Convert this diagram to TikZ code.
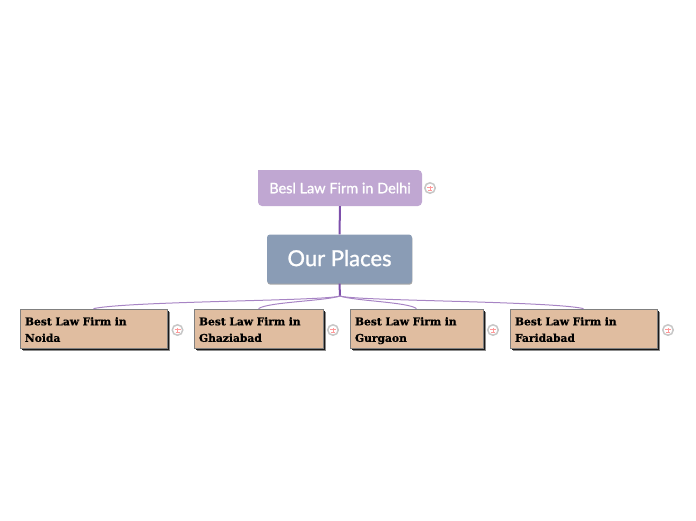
\documentclass[tikz,border=0pt]{standalone}
\usepackage{fontspec}
\setmainfont{Lato}[FakeBold=1.1]
\newfontfamily\slabfont{DejaVu Serif Bold}[FakeBold=0.7]
\usetikzlibrary{shadows}

\begin{document}
\begin{tikzpicture}[x=1pt, y=-1pt,
  root/.style = {rectangle, rounded corners=3pt, fill=rootblue, text=white, minimum width=145pt, minimum height=49pt, inner sep=0pt, text depth=2pt, font=\fontsize{22}{26}\selectfont, general shadow={shadow xshift=0.4pt, shadow yshift=-1.2pt, fill=black!35}},
  upper/.style = {rectangle, rounded corners=4pt, fill=upperpurple, text=white, minimum width=164pt, minimum height=36pt, inner sep=0pt, font=\fontsize{14.5}{18}\selectfont},
  place/.style = {rectangle, draw=black!50, fill=placetan, text=black, line width=0.8pt, minimum height=39pt, inner sep=0pt, text depth=14.5pt, font=\slabfont\fontsize{10.7}{16.5}\selectfont, align=left, general shadow={shadow xshift=3pt, shadow yshift=-3pt, fill=black!45}, general shadow={shadow xshift=1.5pt, shadow yshift=-1.5pt, fill=black!90}},
  icon/.style = {circle, draw=black!22, line width=1.5pt, fill=white, minimum size=10.5pt, inner sep=0pt, path picture={
      \draw[red!40, line width=0.7pt] ([xshift=-3pt,yshift=1pt]path picture bounding box.center) -- ([xshift=3pt,yshift=1pt]path picture bounding box.center);
      \draw[red!40, line width=0.6pt] ([yshift=2pt]path picture bounding box.center) -- ([yshift=-2.5pt]path picture bounding box.center);
      \draw[red!40, line width=0.8pt] ([xshift=-2pt,yshift=-2.5pt]path picture bounding box.center) -- ([xshift=2pt,yshift=-2.5pt]path picture bounding box.center);
    }},
  stem/.style = {draw=linepurple, line width=2pt},
  branch/.style = {draw=branchpurple, line width=1pt},
  ]
  \definecolor{rootblue}{HTML}{8A9CB5}
  \definecolor{upperpurple}{HTML}{C0A7D2}
  \definecolor{placetan}{HTML}{E0BDA0}
  \definecolor{linepurple}{HTML}{7D4FAB}
  \definecolor{branchpurple}{HTML}{A784C4}

  \useasboundingbox (0,0) rectangle (696,520);

  \node[root] (places) at (339.5,259) {Our Places};
  \node[upper] (delhi) at (340,188) {Besl Law Firm in Delhi};
  \fill[upperpurple] (delhi.north west) rectangle +(5,5);
  \node[icon] (delhiicon) at (430,188) {};

  \node[place, minimum width=147pt, text width=137pt] (noida) at (93.5,328.5) {Best Law Firm in\\Noida};
  \node[place, minimum width=129pt, text width=119pt] (ghaziabad) at (258.5,328.5) {Best Law Firm in\\Ghaziabad};
  \node[place, minimum width=133pt, text width=123pt] (gurgaon) at (416.5,328.5) {Best Law Firm in\\Gurgaon};
  \node[place, minimum width=147pt, text width=137pt] (faridabad) at (583.5,328.5) {Best Law Firm in\\Faridabad};

  \node[icon] (noidaicon) at (177.5,330) {};
  \node[icon] (ghaziabadicon) at (333,330) {};
  \node[icon] (gurgaonicon) at (493,330) {};
  \node[icon] (faridabadicon) at (668,330) {};

  \coordinate (hub) at (340,296);

  \draw[stem] (delhi.south) -- (places.north);
  \draw[stem] (places.south) -- (hub);
  \draw[branch] (hub) .. controls (325,301) and (130,301) .. (noida.north);
  \draw[branch] (hub) .. controls (325,301) and (268,302) .. (ghaziabad.north);
  \draw[branch] (hub) .. controls (355,301) and (408,302) .. (gurgaon.north);
  \draw[branch] (hub) .. controls (355,301) and (550,301) .. (faridabad.north);
\end{tikzpicture}
\end{document}
